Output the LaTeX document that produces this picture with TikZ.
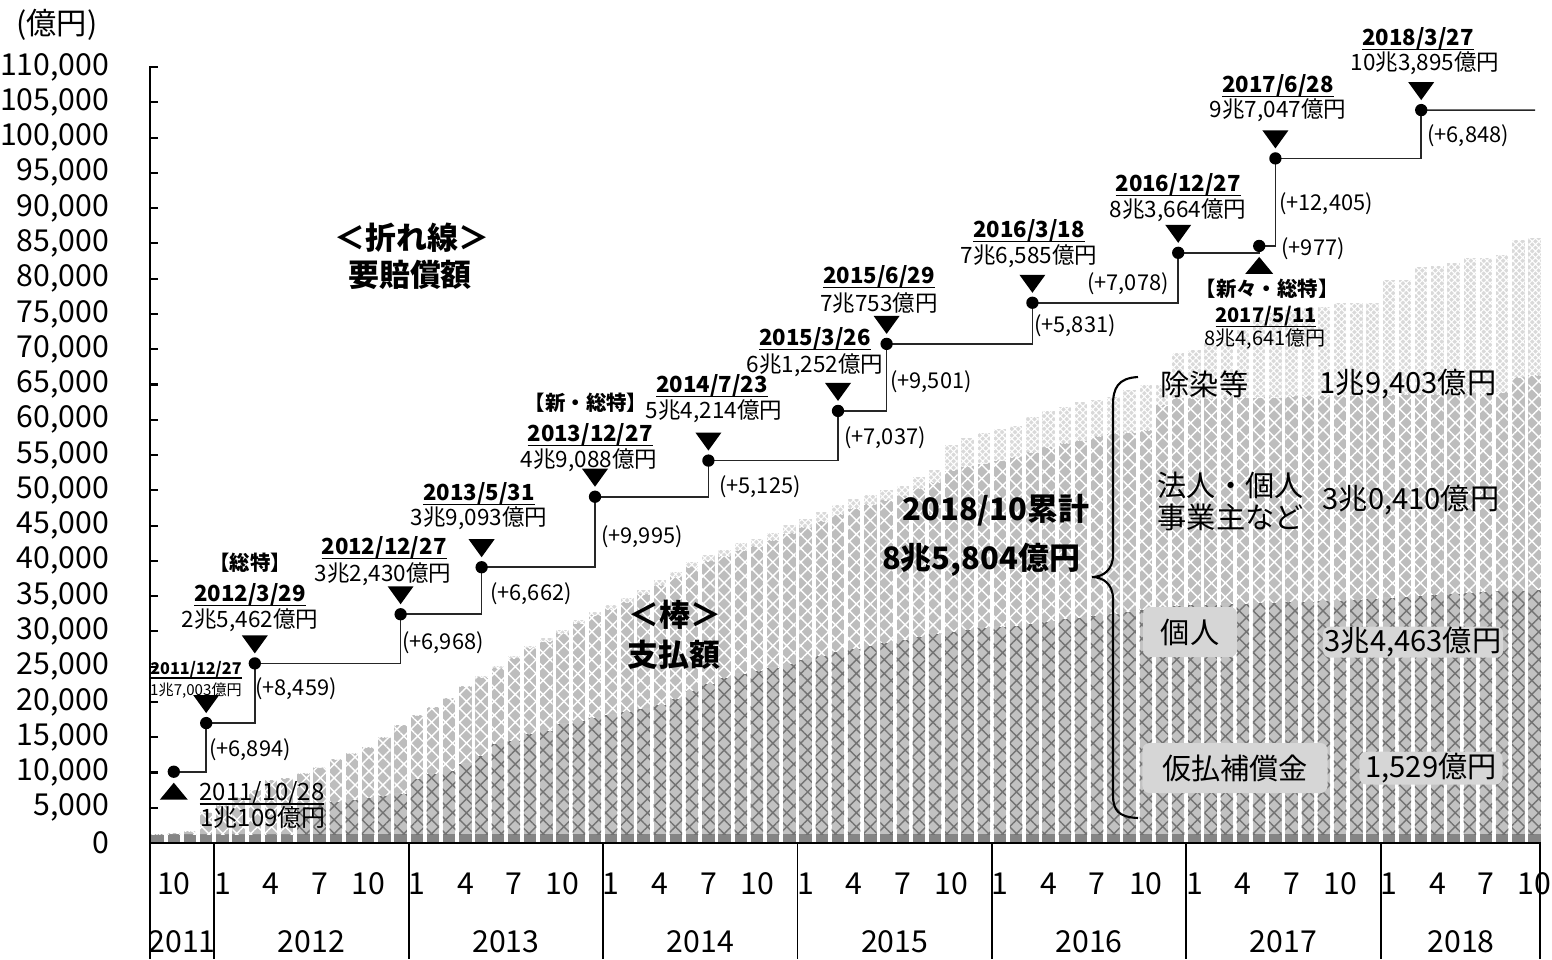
\documentclass[tikz,border=0pt]{standalone}
\usepackage{fontspec}
\setmainfont{Noto Sans CJK JP}
\usepackage{tikz}
\usetikzlibrary{patterns.meta}
\definecolor{kariC}{gray}{0.52}
\definecolor{kojinC}{gray}{0.76}
\definecolor{houjinC}{gray}{0.74}
\definecolor{josenC}{gray}{0.85}
\definecolor{boxC}{gray}{0.84}
\newcommand{\dateul}[1]{\setbox0=\hbox{#1}\rlap{\rule[-1.3pt]{\wd0}{0.45pt}}\box0}
\tikzset{
    kari/.style={fill=kariC},
    kojin/.style={fill=kojinC, postaction={pattern={Hatch[angle=45,distance=2.8pt,line width=0.4pt]}, pattern color=black!55}},
    houjin/.style={fill=houjinC, postaction={pattern={Hatch[angle=45,distance=2.8pt,line width=0.4pt]}, pattern color=white}},
    josen/.style={fill=josenC, postaction={pattern={Hatch[angle=45,distance=1.3pt,line width=0.3pt]}, pattern color=white}},
    axisline/.style={line width=0.6pt, black},
    sepline/.style={line width=0.5pt, black},
    stepline/.style={line width=0.45pt, black!85},
    axlbl/.style={inner sep=0pt, font={\fontsize{8.6}{10}\selectfont}},
    datelbl/.style={inner sep=0pt, font={\fontsize{6.3}{7}\selectfont\bfseries}},
    taglbl/.style={inner sep=0pt, font={\fontsize{5.8}{6}\selectfont\bfseries}},
    amtlbl/.style={inner sep=0pt, font={\fontsize{6.4}{7}\selectfont}},
    difflbl/.style={inner sep=0pt, font={\fontsize{6.2}{7}\selectfont}},
    headlbl/.style={inner sep=0pt, font={\fontsize{8.8}{10}\selectfont\bfseries}},
    leglbl/.style={inner sep=0pt, font={\fontsize{8.3}{10}\selectfont}},
    legbox/.style={fill=boxC, rounded corners=2pt},
    ptdot/.style={circle, fill=black, inner sep=0pt, minimum size=3.5pt},
    mkdown/.pic={\fill (-13,-28) -- (13,-28) -- (0,-10) -- cycle;},
    mkup/.pic={\fill (-14,28) -- (14,28) -- (0,11) -- cycle;}
}

\begin{document}
\begin{tikzpicture}[x=0.01cm, y=-0.01cm]
\useasboundingbox (0,0) rectangle (1552,959);
\foreach \t/\h/\p [count=\i from 0] in {
    834/834/834, 833/833/834, 831/831/834, 812/812/834, 805/805/834, 797/797/834, 790/790/834, 780/780/834,
    778/778/834, 773/773/806, 767/767/803, 759/759/801, 753/753/799, 747/747/797, 737/737/795, 725/725/793,
    715/715/778, 707/707/773, 698/698/770, 686/686/763, 676/677/755, 666/668/743, 656/658/740, 646/648/733,
    638/641/730, 630/633/723, 620/623/720, 612/615/717, 605/609/714, 598/602/711, 590/594/708, 580/585/704,
    572/577/698, 562/567/690, 555/561/683, 550/556/677, 543/550/673, 539/546/670, 533/540/667, 525/533/663,
    519/527/659, 512/521/655, 505/514/651, 499/508/648, 495/504/645, 490/500/642, 486/496/639, 477/488/636,
    470/482/633, 445/470/631, 438/466/629, 433/463/627, 429/460/626, 426/457/625, 417/452/623, 411/447/621,
    407/443/618, 402/440/617, 400/436/615, 397/433/613, 390/432/611, 385/430/609, 385/405/607, 353/398/605,
    350/398/604, 343/398/604, 340/397/603, 330/397/603, 320/397/602, 313/397/602, 310/396/601, 308/396/601,
    307/396/600, 303/396/600, 303/395/599, 303/395/598, 280/395/597, 280/394/596, 267/394/595, 266/394/594,
    263/393/593, 258/393/592, 258/392/591, 255/392/590, 240/377/590, 238/375/589} {
    \pgfmathsetmacro{\xl}{151.3+16.2*\i}
    \pgfmathsetmacro{\xr}{\xl+12.5}
    \path[kari] (\xl,843) rectangle (\xr,834);
    \path[kojin] (\xl,834) rectangle (\xr,\p);
    \path[houjin] (\xl,\p) rectangle (\xr,\h);
    \path[josen] (\xl,\h) rectangle (\xr,\t);
}
\draw[axisline] (150,66) -- (150,959);
\draw[axisline] (150,843) -- (1540,843) -- (1540,959);
\foreach \k in {0,...,22} {
    \pgfmathtruncatemacro{\val}{\k*5}
    \node[axlbl, anchor=east] (yt\k) at (110,{843-\k*35.27}) {\ifnum\k=0 0\else\val,000\fi};
    \draw[axisline] (150,{843-\k*35.27}) -- ++(8,0);
}
\node[axlbl] (unit) at (57,25) {(億円)};
\node[axlbl] (m2011-10) at ({149.5+16.2*1.5},884) {10};
\node[axlbl] (y2011) at (182,942) {2011};
\foreach \yr [count=\n from 0] in {2012,...,2018} {
    \foreach \m in {1,4,7,10} {
        \node[axlbl] (m\yr-\m) at ({149.5+16.2*(4+12*\n+\m-0.5)},884) {\m};
    }
    \pgfmathsetmacro{\yc}{\n<6 ? 149.5+16.2*(10+12*\n) : 1461}
    \node[axlbl] (y\yr) at (\yc,942) {\yr};
    \draw[sepline] ({149.5+16.2*(4+12*\n)},843) -- ++(0,116);
}
\foreach \m/\v [count=\k] in {1/10.109, 3/17.003, 6/25.462, 15/32.430, 20/39.093, 27/49.088, 34/54.214,
    42/61.252, 45/70.753, 54/76.585, 63/83.664, 68/84.641, 69/97.047, 78/103.895} {
    \coordinate (p\k) at ({149.5+16.2*(\m+0.5)},{843-\v*7.0545});
}
\coordinate (pend) at (1535,110.1);
\foreach \k [evaluate=\k as \kn using int(\k+1)] in {1,...,13} {
    \draw[stepline] (p\k) -| (p\kn);
}
\draw[stepline] (p14) -- (pend);
\foreach \k in {1,...,14} {
    \node[ptdot] (d\k) at (p\k) {};
}
\foreach \k in {2,...,11,13,14} {
    \pic at (p\k) {mkdown};
}
\foreach \k in {1,12} {
    \pic at (p\k) {mkup};
}
\node[amtlbl, font={\fontsize{6.8}{8}\selectfont}] (dt1) at (262,793) {\dateul{2011/10/28}};
\node[amtlbl, font={\fontsize{6.8}{8}\selectfont}] (am1) at (263,817) {1兆109億円};
\node[datelbl, font={\fontsize{4.6}{5}\selectfont\bfseries}] (dt2) at (196,670) {\dateul{2011/12/27}};
\node[amtlbl, font={\fontsize{4.3}{5}\selectfont}] (am2) at (196,691) {1兆7,003億円};
\node[taglbl] (tg3) at (250,563) {【総特】};
\node[datelbl] (dt3) at (250,595) {\dateul{2012/3/29}};
\node[amtlbl] (am3) at (250,620) {2兆5,462億円};
\node[datelbl] (dt4) at (384,548) {\dateul{2012/12/27}};
\node[amtlbl] (am4) at (383,574) {3兆2,430億円};
\node[datelbl] (dt5) at (479,494) {\dateul{2013/5/31}};
\node[amtlbl] (am5) at (479,518) {3兆9,093億円};
\node[taglbl] (tg6) at (586,403) {【新・総特】};
\node[datelbl] (dt6) at (590,435) {\dateul{2013/12/27}};
\node[amtlbl] (am6) at (589,460) {4兆9,088億円};
\node[datelbl] (dt7) at (712,386) {\dateul{2014/7/23}};
\node[amtlbl] (am7) at (714,411) {5兆4,214億円};
\node[datelbl] (dt8) at (815,339) {\dateul{2015/3/26}};
\node[amtlbl] (am8) at (815,365) {6兆1,252億円};
\node[datelbl] (dt9) at (879,277) {\dateul{2015/6/29}};
\node[amtlbl] (am9) at (879,303) {7兆753億円};
\node[datelbl] (dt10) at (1029,231) {\dateul{2016/3/18}};
\node[amtlbl] (am10) at (1029,256) {7兆6,585億円};
\node[datelbl] (dt11) at (1178,185) {\dateul{2016/12/27}};
\node[amtlbl] (am11) at (1178,210) {8兆3,664億円};
\node[taglbl] (tg12) at (1267,289) {【新々・総特】};
\node[datelbl, font={\fontsize{5.7}{6}\selectfont\bfseries}] (dt12) at (1266,317) {\dateul{2017/5/11}};
\node[amtlbl, font={\fontsize{5.7}{6}\selectfont}] (am12) at (1265,339) {8兆4,641億円};
\node[datelbl] (dt13) at (1278,86) {\dateul{2017/6/28}};
\node[amtlbl] (am13) at (1278,110) {9兆7,047億円};
\node[datelbl] (dt14) at (1418,39) {\dateul{2018/3/27}};
\node[amtlbl] (am14) at (1425,63) {10兆3,895億円};
\node[difflbl] (df1) at (250,750) {(+6,894)};
\node[difflbl] (df2) at (296,689) {(+8,459)};
\node[difflbl] (df3) at (443,643) {(+6,968)};
\node[difflbl] (df4) at (531,594) {(+6,662)};
\node[difflbl] (df5) at (642,537) {(+9,995)};
\node[difflbl] (df6) at (760,487) {(+5,125)};
\node[difflbl] (df7) at (885,438) {(+7,037)};
\node[difflbl] (df8) at (931,382) {(+9,501)};
\node[difflbl] (df9) at (1075,326) {(+5,831)};
\node[difflbl] (df10) at (1128,284) {(+7,078)};
\node[difflbl] (df11) at (1313,249) {(+977)};
\node[difflbl] (df12) at (1326,204) {(+12,405)};
\node[difflbl] (df13) at (1468,136) {(+6,848)};
\node[headlbl] (hd1) at (412,238) {＜折れ線＞};
\node[headlbl] (hd2) at (410,275) {要賠償額};
\node[headlbl] (hd3) at (675,615) {＜棒＞};
\node[headlbl] (hd4) at (674,655) {支払額};
\node[headlbl] (sum1) at (996,510) {2018/10累計};
\node[headlbl] (sum2) at (981,560) {8兆5,804億円};
\draw[line width=0.6pt] (1138,377) .. controls (1118,378) and (1113,388) .. (1113,405) -- (1113,555)
    .. controls (1113,570) and (1103,577) .. (1092,577) .. controls (1103,577) and (1113,584) .. (1113,599)
    -- (1113,795) .. controls (1113,810) and (1118,817) .. (1138,818);
\node[leglbl, anchor=west] (lg1) at (1160,384) {除染等};
\node[leglbl] (lv1) at (1408,384) {1兆9,403億円};
\node[leglbl, anchor=west] (lg2) at (1157,485) {法人・個人};
\node[leglbl, anchor=west] (lg2b) at (1157,517) {事業主など};
\node[leglbl] (lv2) at (1411,500) {3兆0,410億円};
\node[leglbl, legbox, minimum width=0.94cm, minimum height=0.5cm] (lg3) at (1190,632) {個人};
\node[leglbl, legbox, minimum width=1.8cm, minimum height=0.31cm] (lv3) at (1413,642) {3兆4,463億円};
\node[leglbl, legbox, minimum width=1.85cm, minimum height=0.5cm] (lg4) at (1235,768) {仮払補償金};
\node[leglbl, legbox, minimum width=1.43cm, minimum height=0.33cm] (lv4) at (1431,768) {1,529億円};
\end{tikzpicture}
\end{document}
